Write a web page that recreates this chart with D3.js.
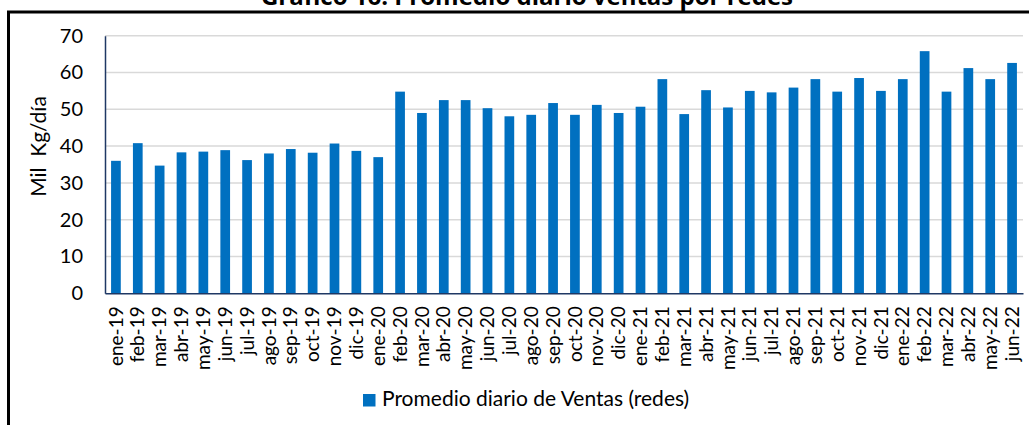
<!DOCTYPE html>
<html>
<head>
<meta charset="utf-8">
<script src="https://cdn.jsdelivr.net/npm/d3@7"></script>
<style>
  body { margin: 0; background: #fff; }
  svg { display: block; font-family: Lato, "Open Sans", sans-serif; }
</style>
</head>
<body>
<svg id="svg" width="1029" height="425"></svg>
<script>
// months (ene-19 .. jun-22)
const categories = [
  "ene-19", "feb-19", "mar-19", "abr-19", "may-19", "jun-19", "jul-19", "ago-19", "sep-19", "oct-19", "nov-19", "dic-19",
  "ene-20", "feb-20", "mar-20", "abr-20", "may-20", "jun-20", "jul-20", "ago-20", "sep-20", "oct-20", "nov-20", "dic-20",
  "ene-21", "feb-21", "mar-21", "abr-21", "may-21", "jun-21", "jul-21", "ago-21", "sep-21", "oct-21", "nov-21", "dic-21",
  "ene-22", "feb-22", "mar-22", "abr-22", "may-22", "jun-22"
];

// Promedio diario de Ventas (redes), mil kg/día
const ventas = [
  36.0, 40.8, 34.7, 38.3, 38.5, 38.9, 36.2, 38.0, 39.2, 38.2, 40.7, 38.7,
  37.0, 54.8, 49.0, 52.5, 52.5, 50.3, 48.1, 48.5, 51.7, 48.5, 51.2, 49.0,
  50.7, 58.2, 48.7, 55.2, 50.5, 55.0, 54.6, 55.9, 58.2, 54.8, 58.5, 55.0,
  58.2, 65.8, 54.8, 61.2, 58.2, 62.6
];

const yTicks = [0, 10, 20, 30, 40, 50, 60, 70];

const title = "Gráfico 16: Promedio diario ventas por redes";
const yLabel = "Mil  Kg/día";
const seriesName = "Promedio diario de Ventas (redes)";

const svg = d3.select("#svg");

// plot area
const plot = { left: 105, right: 1023, top: 35.7, bottom: 293.3 };

// outer frame (runs off the bottom / right edge)
svg.append("rect")
    .attr("x", 8.5).attr("y", 12)
    .attr("width", 1100).attr("height", 500)
    .attr("fill", "none")
    .attr("stroke", "#000")
    .attr("stroke-width", 3);

// title, clipped at the top of the picture
svg.append("text")
    .attr("x", 527).attr("y", 5)
    .attr("text-anchor", "middle")
    .attr("font-family", "'Open Sans', sans-serif")
    .attr("font-weight", "bold")
    .attr("font-size", 24)
    .attr("fill", "#000")
    .text(title);

const x = d3.scaleBand()
    .domain(categories)
    .range([plot.left, plot.right])
    .paddingInner(0.556)
    .paddingOuter(0.278);

const y = d3.scaleLinear()
    .domain([0, 70])
    .range([plot.bottom, plot.top]);

// gridlines
svg.append("g")
    .selectAll("line")
    .data(yTicks.filter(d => d > 0))
    .join("line")
    .attr("x1", plot.left).attr("x2", plot.right)
    .attr("y1", d => y(d)).attr("y2", d => y(d))
    .attr("stroke", "#d9d9d9")
    .attr("stroke-width", 1.5);

// bars
svg.append("g")
    .selectAll("rect")
    .data(ventas)
    .join("rect")
    .attr("x", (d, i) => x(categories[i]))
    .attr("y", d => y(d))
    .attr("width", x.bandwidth())
    .attr("height", d => y(0) - y(d))
    .attr("fill", "#0070c0");

// y axis
const yAxis = svg.append("g")
    .attr("transform", `translate(${plot.left},0)`)
    .call(d3.axisLeft(y).tickValues(yTicks).tickSize(0).tickPadding(22));
yAxis.select(".domain").attr("stroke", "#1f3864").attr("stroke-width", 1.5);
yAxis.selectAll("text")
    .attr("font-family", "Lato, sans-serif")
    .attr("font-size", 20)
    .attr("fill", "#000");

// x axis
const xAxis = svg.append("g")
    .attr("transform", `translate(0,${plot.bottom})`)
    .call(d3.axisBottom(x).tickSize(0).tickPadding(0));
xAxis.select(".domain").attr("stroke", "#1f3864").attr("stroke-width", 1.5);
xAxis.selectAll("text")
    .attr("font-family", "Lato, sans-serif")
    .attr("font-size", 19)
    .attr("fill", "#000")
    .attr("text-anchor", "end")
    .attr("transform", "rotate(-90)")
    .attr("x", -13)
    .attr("y", 0)
    .attr("dy", "0.35em");

// y label
svg.append("text")
    .attr("transform", `translate(46,${(plot.top + plot.bottom) / 2 - 18}) rotate(-90)`)
    .attr("text-anchor", "middle")
    .attr("font-size", 21)
    .attr("fill", "#000")
    .style("white-space", "pre")
    .text(yLabel);

// legend
const legend = svg.append("g").attr("transform", "translate(363,394)");
legend.append("rect")
    .attr("width", 12.5).attr("height", 12.5)
    .attr("fill", "#0070c0");
legend.append("text")
    .attr("x", 19).attr("y", 11.5)
    .attr("font-size", 21)
    .attr("fill", "#000")
    .text(seriesName);
</script>
</body>
</html>
